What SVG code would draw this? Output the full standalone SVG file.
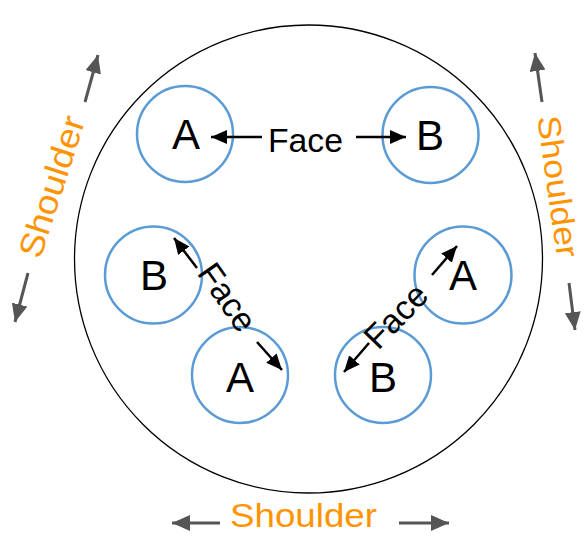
<svg xmlns="http://www.w3.org/2000/svg" width="585" height="536" viewBox="0 0 585 536">
<style>
.node{fill:#fff;stroke:#5b9bd5;stroke-width:2.5}
.lbl{font-family:"Liberation Sans",Arial,sans-serif;font-size:42px;fill:#000;text-anchor:middle}
.face{font-family:"Liberation Sans",Arial,sans-serif;font-size:34px;fill:#000;text-anchor:middle}
.sh{font-family:"Liberation Sans",Arial,sans-serif;font-size:34px;fill:#ff9300;text-anchor:middle}
.ba{stroke:#000;stroke-width:2.5;fill:none;marker-end:url(#hb)}
.ga{stroke:#555;stroke-width:3;fill:none;marker-end:url(#hg)}
</style>
<defs>
<marker id="hb" markerUnits="userSpaceOnUse" markerWidth="17" markerHeight="14" refX="16" refY="7" orient="auto"><path d="M0,0 L16,7 L0,14 z" fill="#000"/></marker>
<marker id="hg" markerUnits="userSpaceOnUse" markerWidth="19" markerHeight="16" refX="18" refY="8" orient="auto"><path d="M0,0 L18,8 L0,16 z" fill="#555"/></marker>
</defs>
<rect width="585" height="536" fill="#fff"/>
<g id="outer"><circle cx="308.5" cy="259" r="234" fill="none" stroke="#000" stroke-width="1.3"/></g>
<g id="nodeA1"><circle class="node" cx="185" cy="134" r="48"/><text class="lbl" x="186" y="149">A</text></g>
<g id="nodeB1"><circle class="node" cx="430.5" cy="135" r="48"/><text class="lbl" x="430" y="150">B</text></g>
<g id="nodeB2"><circle class="node" cx="153.5" cy="275" r="48.5"/><text class="lbl" x="154" y="290">B</text></g>
<g id="nodeA2"><circle class="node" cx="240" cy="375" r="48"/><text class="lbl" x="240" y="392">A</text></g>
<g id="nodeA3"><circle class="node" cx="463" cy="275" r="48.5"/><text class="lbl" x="463" y="290">A</text></g>
<g id="nodeB3"><circle class="node" cx="383" cy="375" r="48"/><text class="lbl" x="383" y="392">B</text></g>
<g id="connectors">
<line class="ba" x1="262" y1="137" x2="211" y2="137"/>
<line class="ba" x1="356" y1="137" x2="406" y2="137"/>
<line class="ba" x1="197" y1="268" x2="174" y2="238"/>
<line class="ba" x1="257" y1="342" x2="282" y2="370"/>
<line class="ba" x1="432" y1="275" x2="457" y2="246"/>
<line class="ba" x1="369" y1="343" x2="344" y2="372"/>
<line class="ga" x1="85" y1="102" x2="98" y2="55"/>
<line class="ga" x1="28" y1="273" x2="15" y2="322"/>
<line class="ga" x1="542" y1="102" x2="535" y2="53"/>
<line class="ga" x1="569" y1="283" x2="575" y2="330"/>
<line class="ga" x1="220" y1="523" x2="172" y2="523"/>
<line class="ga" x1="399" y1="523" x2="449" y2="523"/>
</g>
<g id="labels">
<text class="face" x="305.5" y="152" textLength="75" lengthAdjust="spacingAndGlyphs">Face</text>
<text class="face" transform="translate(228.5,296.5) rotate(55)" x="0" y="13" textLength="75" lengthAdjust="spacingAndGlyphs">Face</text>
<text class="face" transform="translate(395,315) rotate(-46)" x="0" y="13" textLength="75" lengthAdjust="spacingAndGlyphs">Face</text>
<text class="sh" x="303.5" y="527" textLength="147" lengthAdjust="spacingAndGlyphs">Shoulder</text>
<text class="sh" transform="translate(51.5,186.5) rotate(-72)" x="0" y="12" textLength="147" lengthAdjust="spacingAndGlyphs">Shoulder</text>
<text class="sh" style="font-size:32px" transform="translate(558,186.5) rotate(82)" x="0" y="11" textLength="143" lengthAdjust="spacingAndGlyphs">Shoulder</text>
</g>
</svg>
